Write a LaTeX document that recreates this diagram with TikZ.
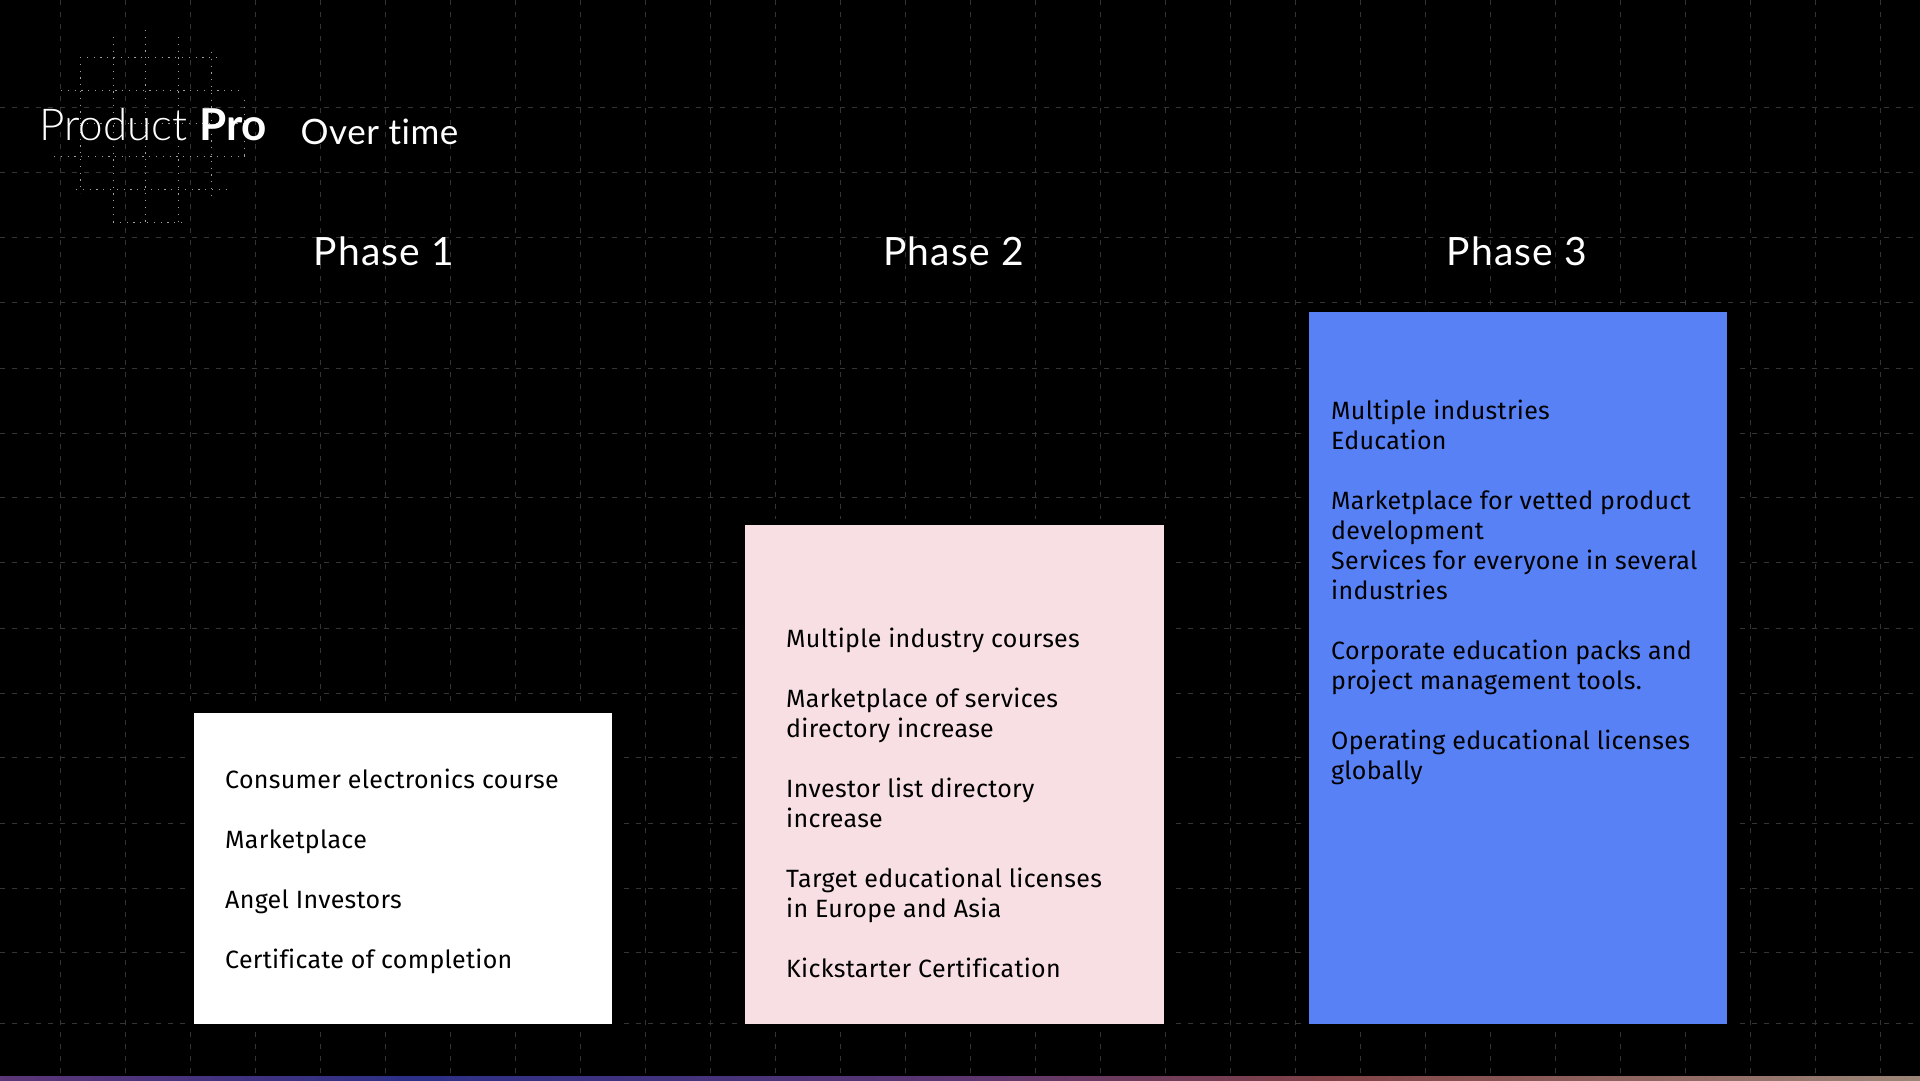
\documentclass[tikz,border=0pt]{standalone}
\usepackage{fontspec}
\usepackage{xcolor}
\usetikzlibrary{positioning}
\setmainfont{Fira Sans}[LetterSpace=1.2,Ligatures=NoCommon]
\newfontfamily\titlefont{Lato}[LetterSpace=3,Ligatures=NoCommon]
\newfontfamily\subtitlefont{Lato}[LetterSpace=1.5,Ligatures=NoCommon]
\newfontfamily\logofont{Lato Light}[BoldFont=Lato Bold]
\definecolor{gridcolor}{RGB}{52, 52, 52}
\definecolor{dotcolor}{RGB}{160, 160, 160}
\definecolor{pinkcolor}{RGB}{247, 223, 227}
\definecolor{bluecolor}{RGB}{88, 129, 245}
\definecolor{barA}{RGB}{92, 54, 118}
\definecolor{barB}{RGB}{44, 48, 136}
\definecolor{barC}{RGB}{92, 54, 112}
\definecolor{barD}{RGB}{128, 66, 70}
\definecolor{barE}{RGB}{156, 134, 120}
\begin{document}
\begin{tikzpicture}[
    x=1pt, y=-1pt,
    gridline/.style={gridcolor, line width=1pt, dash pattern=on 5pt off 7pt},
    logodots/.style={dotcolor, line width=1pt, dash pattern=on 1.2pt off 5.6pt},
    box/.style={rectangle, anchor=north west, inner sep=0pt, minimum width=418.5pt, preaction={draw=black, line width=11pt}},
    bodytext/.style={anchor=north west, inner sep=0pt, align=left, text=black, font=\fontsize{25}{30}\selectfont},
    phase/.style={anchor=base, inner sep=0pt, text=white, font=\titlefont\fontsize{39}{44}\selectfont}
]
    \useasboundingbox (0, 0) rectangle (1920, 1080);
    \fill[black] (0, 0) rectangle (1920, 1080);

    % grid behind everything
    \foreach \k in {0, ..., 28} {
        \draw[gridline] ({60.7 + 65*\k}, 0) -- ({60.7 + 65*\k}, 1076);
    }
    \foreach \y in {107, 172, 237, 302, 368, 433, 497, 562, 628, 693, 757, 823, 888, 952, 1023} {
        \draw[gridline] (0, \y) -- (1920, \y);
    }

    % logo dots
    \foreach \y/\a/\b in {57/80/218, 90/61/240, 123/80/245, 156/54/245, 189.5/76/226, 222/113/182} {
        \draw[logodots] (\a, \y) -- (\b, \y);
    }
    \foreach \x/\a/\b in {80/57/193, 113/37/222, 145.5/30/222, 178.5/37/222, 211.5/52/201, 244.5/100/156} {
        \draw[logodots] (\x, \a) -- (\x, \b);
    }

    \node[anchor=base west, inner sep=0pt, text=white, font=\logofont\fontsize{44}{50}\selectfont] (logo) at (39, 140) {Product \textbf{Pro}};
    \node[anchor=base west, inner sep=0pt, text=white, font=\subtitlefont\fontsize{35}{40}\selectfont] (overtime) at (300.5, 144.5) {Over time};

    \node[phase] (phase1) at (384, 265.7) {Phase 1};
    \node[phase] (phase2) at (953.5, 265.7) {Phase 2};
    \node[phase] (phase3) at (1517, 265.7) {Phase 3};

    \node[box, fill=white, minimum height=311.5pt] (box1) at (193.3, 712.7) {};
    \node[box, fill=pinkcolor, minimum height=499.5pt] (box2) at (745, 524.7) {};
    \node[box, fill=bluecolor, minimum height=712.7pt] (box3) at (1308.5, 311.5) {};

    \node[bodytext, below right=56pt and 31.7pt of box1.north west] (text1) {
        Consumer electronics course\\[30pt]
        Marketplace\\[30pt]
        Angel Investors\\[30pt]
        Certificate of completion
    };
    \node[bodytext, below right=103pt and 41pt of box2.north west] (text2) {
        Multiple industry courses\\[30pt]
        Marketplace of services\\
        directory increase\\[30pt]
        Investor list directory\\
        increase\\[30pt]
        Target educational licenses\\
        in Europe and Asia\\[30pt]
        Kickstarter Certification
    };
    \node[bodytext, below right=88pt and 22.5pt of box3.north west] (text3) {
        Multiple industries\\
        Education\\[30pt]
        Marketplace for vetted product\\
        development\\
        Services for everyone in several\\
        industries\\[30pt]
        Corporate education packs and\\
        project management tools.\\[30pt]
        Operating educational licenses\\
        globally
    };

    % thin strip along the bottom edge
    \foreach \a/\b/\ca/\cb in {0/416/barA/barB, 416/960/barB/barC, 960/1330/barC/barD, 1330/1920/barD/barE} {
        \shade[left color=\ca, right color=\cb] (\a, 1076) rectangle (\b, 1080);
    }
\end{tikzpicture}
\end{document}
